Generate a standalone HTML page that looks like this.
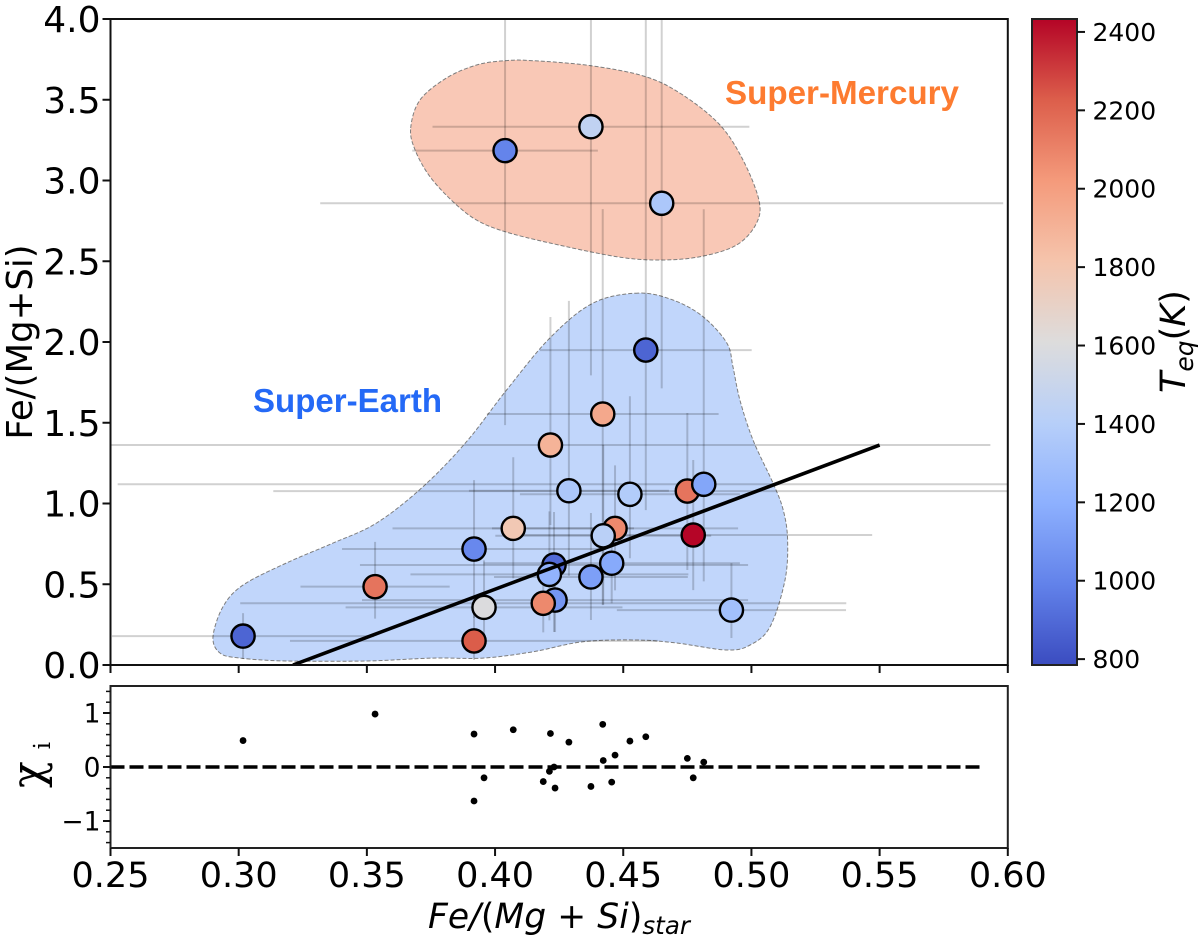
<!DOCTYPE html>
<html lang="en">
<head>
<meta charset="utf-8">
<title>Fe/(Mg+Si) planet versus star</title>
<style>
html,body{margin:0;padding:0;background:#fff;}
svg{display:block;}
text{font-family:"DejaVu Sans","Liberation Sans",sans-serif;fill:#000;}
</style>
</head>
<body>
<svg id="chart" xmlns="http://www.w3.org/2000/svg" width="1200" height="942" viewBox="0 0 1200 942">
  <defs>
    <clipPath id="main-clip"><rect x="110.5" y="19" width="897.3" height="646"/></clipPath>
    <clipPath id="chi-clip"><rect x="110.5" y="686" width="897.3" height="162"/></clipPath>
    <linearGradient id="coolwarm-gradient" x1="0" y1="1" x2="0" y2="0"></linearGradient>
  </defs>
  <rect x="0" y="0" width="1200" height="942" fill="#ffffff"/>
  <g id="regions" clip-path="url(#main-clip)"></g>
  <g id="error-bars" clip-path="url(#main-clip)"></g>
  <g id="points" clip-path="url(#main-clip)"></g>
  <g id="fit" clip-path="url(#main-clip)"></g>
  <text x="725" y="104" font-size="33" font-weight="700" textLength="234" lengthAdjust="spacingAndGlyphs" style="font-family:'Liberation Sans',sans-serif;fill:#fd7b30">Super-Mercury</text>
  <text x="253" y="412" font-size="33" font-weight="700" textLength="189" lengthAdjust="spacingAndGlyphs" style="font-family:'Liberation Sans',sans-serif;fill:#2469f6">Super-Earth</text>
  <rect x="110.5" y="19" width="897.3" height="646" fill="none" stroke="#111" stroke-width="2"/>
  <g id="main-axes"></g>
  <text transform="translate(32 342) rotate(-90)" text-anchor="middle" font-size="35.5">Fe/(Mg+Si)</text>

  <g id="chi-marks" clip-path="url(#chi-clip)"></g>
  <rect x="110.5" y="686" width="897.3" height="162" fill="none" stroke="#222" stroke-width="2"/>
  <g id="chi-axes"></g>
  <text transform="translate(43 788) rotate(-90)"><tspan font-size="44" style="font-family:'DejaVu Serif',serif">χ</tspan><tspan font-size="23" dx="12" dy="7" style="font-family:'DejaVu Serif',serif">i</tspan></text>
  <text x="428" y="928" font-size="34.5" font-style="italic" textLength="262" lengthAdjust="spacing">Fe/<tspan font-style="normal">(</tspan>Mg<tspan font-style="normal"> + </tspan>Si<tspan font-style="normal">)</tspan><tspan font-size="24.5" dy="6">star</tspan></text>

  <rect id="colorbar-fill" x="1032" y="19" width="45" height="646" fill="url(#coolwarm-gradient)" stroke="#222" stroke-width="2"/>
  <g id="colorbar-axis"></g>
  <text transform="translate(1185 393) rotate(-90)" font-size="35" font-style="italic">T<tspan font-size="25" dy="8">eq</tspan><tspan dy="-8" font-style="normal">(</tspan>K<tspan font-style="normal">)</tspan></text>
</svg>
<script>
// ---- data: star abundance, planet abundance, uncertainties, temperature, residual ----
const starRatio = [0.3017,0.3532,0.3918,0.3918,0.3957,0.4071,0.4230,0.4212,0.4234,0.4188,0.4374,0.4455,0.4468,0.4422,0.4773,0.4288,0.4526,0.4750,0.4814,0.4420,0.4216,0.4588,0.4922,0.4039,0.4374,0.4650];
const planetRatio = [0.179,0.485,0.718,0.149,0.357,0.846,0.619,0.561,0.402,0.382,0.545,0.630,0.846,0.800,0.805,1.079,1.057,1.077,1.119,1.554,1.362,1.950,0.340,3.185,3.333,2.859];
const starError = [0.0511,0.0291,0.0515,0.0718,0.0540,0.0471,0.0757,0.0542,0.0753,0.1182,0.0378,0.0500,0.0480,0.0421,0.0698,0.0390,0.0429,0.1615,0.2286,0.0452,0.1716,0.0413,0.0447,0.0362,0.0618,0.1332];
const planetErrorUp = [0.142,0.277,0.427,0.192,0.291,0.440,0.328,0.390,0.248,0.235,0.396,0.285,0.390,0.563,0.464,1.176,0.607,0.483,1.703,1.269,0.793,2.200,0.291,1.700,1.540,1.146];
const planetErrorDown = [0.142,0.198,0.427,0.118,0.248,0.310,0.415,0.285,0.198,0.180,0.266,0.248,0.384,0.427,0.341,0.526,0.396,0.489,0.601,1.183,0.495,0.991,0.173,1.700,1.540,1.146];
const teq = [880,2150,1020,2230,1600,1780,900,1220,1080,2080,1120,1170,2080,1420,2430,1350,1380,2150,1150,1950,1900,880,1300,1000,1450,1350];
const chi = [0.49,0.98,0.61,-0.63,-0.20,0.69,0.00,-0.08,-0.39,-0.27,-0.36,-0.28,0.22,0.12,-0.20,0.46,0.48,0.16,0.09,0.79,0.62,0.56,null,null,null,null];

const fitX = [0.3212,0.55];
const fitY = [0,1.362];
const zeroLineX = [0.25,0.59];
const zeroLineY = [0,0];

const mercuryRegionX = [.3671,.3707,.3811,.3928,.4039,.4148,.4374,.4588,.4733,.4877,.4967,.5029,.5020,.4943,.4799,.4643,.4475,.4214,.4039,.3928,.3836,.3746,.3688];
const mercuryRegionY = [3.325,3.498,3.635,3.715,3.742,3.742,3.711,3.643,3.529,3.344,3.127,2.879,2.737,2.601,2.528,2.508,2.528,2.613,2.683,2.755,2.869,3.024,3.189];
const earthRegionX = [.4558,.4382,.4214,.4045,.3889,.3719,.3538,.3368,.3187,.3017,.2939,.2900,.2927,.3005,.3187,.3499,.3758,.3953,.4148,.4343,.4552,.4708,.4904,.4995,.5073,.5131,.5141,.5124,.5084,.5006,.4955,.4928,.4904,.4811,.4694];
const earthRegionY = [2.303,2.241,2.025,1.703,1.383,1.104,.879,.755,.632,.495,.361,.175,.074,.043,.025,.025,.043,.043,.082,.144,.155,.136,.093,.124,.237,.526,.774,.960,1.127,1.393,1.641,1.845,1.994,2.157,2.260];

const xTickValues = [0.25,0.30,0.35,0.40,0.45,0.50,0.55,0.60];
const xTickLabels = ["0.25","0.30","0.35","0.40","0.45","0.50","0.55","0.60"];
const yTickValues = [0,0.5,1,1.5,2,2.5,3,3.5,4];
const yTickLabels = ["0.0","0.5","1.0","1.5","2.0","2.5","3.0","3.5","4.0"];
const chiTickValues = [-1,0,1];
const chiTickLabels = ["\u22121","0","1"];
const chiMinorTicks = [-1.4,-1.2,-0.8,-0.6,-0.4,-0.2,0.2,0.4,0.6,0.8,1.2,1.4];
const barTickValues = [800,1000,1200,1400,1600,1800,2000,2200,2400];
const barTickLabels = ["800","1000","1200","1400","1600","1800","2000","2200","2400"];

const colormapStops = ["#3b4cc0","#6282ea","#8db0fe","#b7cff9","#dddcdc","#f5c4ac","#f49a7b","#dc5e4b","#b40426"];
const teqMin = 785;
const teqMax = 2433;

// ---- axis functions ----
function xAxis(v){ return 110.5 + (v - 0.25) * (897.3 / 0.35); }
function yAxis(v){ return 665 - v * 161.5; }
function chiAxis(v){ return 767 - v * 54; }
function barAxis(t){ return 665 - (t - teqMin) / (teqMax - teqMin) * 646; }

function hexToRgb(h){ return [parseInt(h.slice(1,3),16),parseInt(h.slice(3,5),16),parseInt(h.slice(5,7),16)]; }
function coolwarm(f){
  f = Math.max(0, Math.min(1, f));
  const p = f * (colormapStops.length - 1);
  const i = Math.min(Math.floor(p), colormapStops.length - 2);
  const t = p - i;
  const a = hexToRgb(colormapStops[i]), b = hexToRgb(colormapStops[i + 1]);
  return "rgb(" + a.map(function(c, k){ return Math.round(c + (b[k] - c) * t); }).join(",") + ")";
}

const NS = "http://www.w3.org/2000/svg";
function make(tag, parent, attrs){
  const el = document.createElementNS(NS, tag);
  for (const k in attrs) el.setAttribute(k, attrs[k]);
  parent.appendChild(el);
  return el;
}

function smoothClosedPath(px, py){
  const n = px.length;
  let d = "M" + px[0].toFixed(1) + " " + py[0].toFixed(1);
  for (let i = 0; i < n; i++){
    const i0 = (i - 1 + n) % n, i2 = (i + 1) % n, i3 = (i + 2) % n;
    const c1x = px[i] + (px[i2] - px[i0]) / 6, c1y = py[i] + (py[i2] - py[i0]) / 6;
    const c2x = px[i2] - (px[i3] - px[i]) / 6, c2y = py[i2] - (py[i3] - py[i]) / 6;
    d += "C" + c1x.toFixed(1) + " " + c1y.toFixed(1) + " " + c2x.toFixed(1) + " " + c2y.toFixed(1) + " " + px[i2].toFixed(1) + " " + py[i2].toFixed(1);
  }
  return d + "Z";
}

// ---- regions ----
const regionsGroup = document.getElementById("regions");
const mercuryShape = make("path", regionsGroup, {
  d: smoothClosedPath(mercuryRegionX.map(xAxis), mercuryRegionY.map(yAxis)),
  fill: "#f9c8b6", stroke: "#7d7d7d", "stroke-width": 1, "stroke-dasharray": "4 2"
});


const earthShape = make("path", regionsGroup, {
  d: smoothClosedPath(earthRegionX.map(xAxis), earthRegionY.map(yAxis)),
  fill: "#c1d6fb", stroke: "#7d7d7d", "stroke-width": 1, "stroke-dasharray": "4 2"
});



// ---- error bars and points ----
const errorGroup = document.getElementById("error-bars");
const pointGroup = document.getElementById("points");
starRatio.forEach(function(sx, i){
  const sy = planetRatio[i];
  const hBar = make("line", errorGroup, {
    x1: xAxis(sx - starError[i]), x2: xAxis(sx + starError[i]), y1: yAxis(sy), y2: yAxis(sy),
    stroke: "rgba(0,0,0,0.18)", "stroke-width": 2
  });
  
  
  const vBar = make("line", errorGroup, {
    x1: xAxis(sx), x2: xAxis(sx), y1: yAxis(sy + planetErrorUp[i]), y2: yAxis(sy - planetErrorDown[i]),
    stroke: "rgba(0,0,0,0.18)", "stroke-width": 2
  });
  
  
  const dot = make("circle", pointGroup, {
    cx: xAxis(sx), cy: yAxis(sy), r: 11.6,
    fill: coolwarm((teq[i] - teqMin) / (teqMax - teqMin)), stroke: "#000", "stroke-width": 2.4
  });
  
  
});

// ---- fit line ----
const fitGroup = document.getElementById("fit");
const fitLine = make("line", fitGroup, {
  x1: xAxis(fitX[0]), y1: yAxis(fitY[0]), x2: xAxis(fitX[1]), y2: yAxis(fitY[1]),
  stroke: "#000", "stroke-width": 3.6
});



// ---- main axes ----
const mainAxes = document.getElementById("main-axes");
xTickValues.forEach(function(v){
  const tick = make("line", mainAxes, { x1: xAxis(v), x2: xAxis(v), y1: 665, y2: 673, stroke: "#111", "stroke-width": 2 });
  
  
});
yTickValues.forEach(function(v, i){
  const tick = make("line", mainAxes, { x1: 102.5, x2: 110.5, y1: yAxis(v), y2: yAxis(v), stroke: "#111", "stroke-width": 2 });
  
  
  const label = make("text", mainAxes, { x: 100.5, y: yAxis(v) + 13, "text-anchor": "end", "font-size": 36 });
  label.textContent = yTickLabels[i];
  
  
});

// ---- residual panel ----
const chiMarks = document.getElementById("chi-marks");
const zeroLine = make("line", chiMarks, {
  x1: xAxis(zeroLineX[0]), x2: xAxis(zeroLineX[1]), y1: chiAxis(zeroLineY[0]), y2: chiAxis(zeroLineY[1]),
  stroke: "#000", "stroke-width": 3.6, "stroke-dasharray": "14 5"
});


chi.forEach(function(value, i){
  if (value === null) return;
  const dot = make("circle", chiMarks, { cx: xAxis(starRatio[i]), cy: chiAxis(value), r: 3.4, fill: "#000" });
  
  
});
const chiAxes = document.getElementById("chi-axes");
xTickValues.forEach(function(v, i){
  const tick = make("line", chiAxes, { x1: xAxis(v), x2: xAxis(v), y1: 848, y2: 856, stroke: "#111", "stroke-width": 2 });
  
  
  const label = make("text", chiAxes, { x: xAxis(v), y: 887, "text-anchor": "middle", "font-size": 35 });
  label.textContent = xTickLabels[i];
  
  
});
chiTickValues.forEach(function(v, i){
  const tick = make("line", chiAxes, { x1: 103, x2: 110.5, y1: chiAxis(v), y2: chiAxis(v), stroke: "#111", "stroke-width": 2 });
  
  
  const label = make("text", chiAxes, { x: 100.5, y: chiAxis(v) + 9.7, "text-anchor": "end", "font-size": 26.5 });
  label.textContent = chiTickLabels[i];
  
  
});
chiMinorTicks.forEach(function(v){
  const tick = make("line", chiAxes, { x1: 106, x2: 110.5, y1: chiAxis(v), y2: chiAxis(v), stroke: "#111", "stroke-width": 1.5 });
  
  
});

// ---- colorbar ----
const gradient = document.getElementById("coolwarm-gradient");
colormapStops.forEach(function(color, i){
  make("stop", gradient, { offset: i / (colormapStops.length - 1), "stop-color": color });
});
const barAxisGroup = document.getElementById("colorbar-axis");
barTickValues.forEach(function(t, i){
  const tick = make("line", barAxisGroup, { x1: 1077, x2: 1085, y1: barAxis(t), y2: barAxis(t), stroke: "#111", "stroke-width": 2 });
  
  
  const label = make("text", barAxisGroup, { x: 1092.5, y: barAxis(t) + 9, "font-size": 25 });
  label.textContent = barTickLabels[i];
  
  
});
</script>
</body>
</html>
